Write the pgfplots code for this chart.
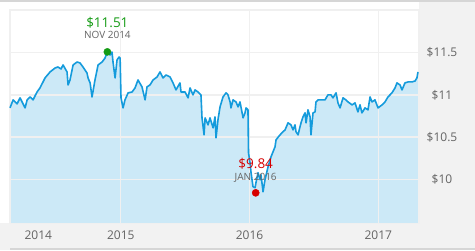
\documentclass[border=0pt]{standalone}
\usepackage{pgfplots}
\pgfplotsset{compat=1.18}
\usepackage{pgfplotstable}
\usepackage{fontspec}
\setmainfont{Open Sans}
\definecolor{lineblue}{RGB}{20,155,220}
\definecolor{fillblue}{RGB}{204,233,247}
\definecolor{gridgray}{RGB}{240,240,240}
\definecolor{panelgray}{RGB}{242,242,242}
\definecolor{bargray}{RGB}{214,214,214}
\definecolor{labelgray}{RGB}{100,100,100}
\definecolor{hiGreen}{RGB}{20,155,20}
\definecolor{loRed}{RGB}{215,0,0}

\pgfplotstableread{
x y
2014.140 10.846
2014.164 10.941
2014.195 10.894
2014.218 10.965
2014.257 10.846
2014.273 10.941
2014.296 10.976
2014.319 10.941
2014.350 11.035
2014.373 11.083
2014.412 11.201
2014.451 11.272
2014.490 11.319
2014.513 11.331
2014.536 11.307
2014.552 11.355
2014.583 11.272
2014.591 11.118
2014.606 11.177
2014.630 11.355
2014.661 11.390
2014.684 11.378
2014.707 11.331
2014.738 11.260
2014.746 11.201
2014.762 11.142
2014.777 10.976
2014.800 11.177
2014.824 11.355
2014.855 11.390
2014.878 11.437
2014.896 11.510
2014.917 11.473
2014.932 11.508
2014.940 11.390
2014.956 11.201
2014.971 11.414
2014.987 11.449
2014.995 11.437
2015.002 10.965
2015.018 10.846
2015.033 10.941
2015.057 11.024
2015.088 11.035
2015.111 11.083
2015.134 11.177
2015.165 11.095
2015.189 10.941
2015.204 11.095
2015.227 11.118
2015.251 11.177
2015.282 11.213
2015.305 11.272
2015.328 11.201
2015.352 11.236
2015.383 11.213
2015.406 11.142
2015.429 11.059
2015.460 11.142
2015.468 11.035
2015.499 11.035
2015.523 10.965
2015.538 11.083
2015.561 11.000
2015.577 11.059
2015.600 11.035
2015.623 11.000
2015.631 10.728
2015.647 10.527
2015.655 10.728
2015.678 10.645
2015.693 10.728
2015.717 10.610
2015.732 10.740
2015.740 10.492
2015.755 10.705
2015.771 10.858
2015.794 10.976
2015.818 11.024
2015.833 11.000
2015.849 10.917
2015.856 10.846
2015.872 10.941
2015.895 10.917
2015.911 10.858
2015.926 10.917
2015.950 10.728
2015.965 10.787
2015.973 10.846
2015.988 10.823
2015.992 10.314
2016.004 10.196
2016.012 10.078
2016.027 9.913
2016.043 9.901
2016.050 9.960
2016.066 10.078
2016.082 9.995
2016.089 10.054
2016.105 9.853
2016.120 9.995
2016.144 10.149
2016.167 10.267
2016.198 10.385
2016.206 10.468
2016.237 10.527
2016.260 10.563
2016.276 10.586
2016.299 10.669
2016.322 10.645
2016.338 10.586
2016.353 10.645
2016.361 10.563
2016.377 10.527
2016.392 10.622
2016.400 10.669
2016.415 10.740
2016.431 10.787
2016.439 10.669
2016.454 10.823
2016.470 10.740
2016.477 10.527
2016.493 10.787
2016.509 10.799
2016.516 10.917
2016.532 10.941
2016.555 10.941
2016.586 10.941
2016.609 11.000
2016.633 11.000
2016.648 10.965
2016.672 11.024
2016.687 10.905
2016.703 10.846
2016.726 10.965
2016.749 10.941
2016.765 10.917
2016.796 10.882
2016.819 10.905
2016.842 10.799
2016.858 10.882
2016.873 10.787
2016.897 10.846
2016.920 10.823
2016.936 10.976
2016.951 10.917
2016.974 10.941
2016.998 10.846
2017.029 10.882
2017.052 10.917
2017.075 10.976
2017.106 11.024
2017.130 11.083
2017.145 11.142
2017.169 11.118
2017.184 11.059
2017.207 11.142
2017.231 11.154
2017.262 11.154
2017.285 11.165
2017.300 11.201
2017.308 11.272
}\pricedata

\pgfplotsset{common/.style={
  at={(10pt,26.7pt)}, anchor=south west,
  scale only axis, width=409pt, height=213.3pt,
  xmin=2014.140, xmax=2017.316,
  ymin=9.479, ymax=12.006,
}}

\begin{document}
\begin{tikzpicture}[x=1pt,y=1pt]
% background panels
\fill[white] (0,0) rectangle (475,250);
\fill[panelgray] (0,0) rectangle (475,26.7);
\fill[panelgray] (419,0) rectangle (475,250);
\fill[bargray] (0,248) rectangle (475,250);
\fill[bargray] (10,0) rectangle (475,2.5);
% area fill underneath the grid
\begin{axis}[common, hide axis]
\addplot[fill=fillblue, draw=none] table {\pricedata} \closedcycle;
\end{axis}
% grid, line, marks, labels
\begin{axis}[
  common,
  axis line style={draw=gridgray, line width=1.5pt},
  major tick length=0pt,
  grid=major,
  major grid style={draw=gridgray, line width=1.5pt},
  xtick={2015,2016,2017},
  xticklabels={2015,2016,2017},
  extra x ticks={2014.36},
  extra x tick labels={2014},
  extra x tick style={grid=none},
  ytick={10,10.5,11,11.5},
  yticklabels={\$10,\$10.5,\$11,\$11.5},
  yticklabel pos=right,
  tick label style={font=\fontsize{12}{14}\selectfont, text=labelgray},
  yticklabel style={anchor=center, xshift=23pt},
  xticklabel style={anchor=center, yshift=-11.5pt},
  /pgf/number format/assume math mode=true,
  clip=false,
]
\addplot[lineblue, line width=1.6pt, line join=round] table {\pricedata};
\addplot[only marks, mark=*, mark size=3.6pt, color=hiGreen] coordinates {(2014.896,11.51)};
\addplot[only marks, mark=*, mark size=3.6pt, color=loRed] coordinates {(2016.048,9.84)};
\node[anchor=base, yshift=24pt, text=hiGreen, font=\fontsize{13.5}{15}\selectfont] at (axis cs:2014.896,11.51) {\$11.51};
\node[anchor=base, yshift=13pt, text=labelgray, font=\fontsize{10}{12}\selectfont] at (axis cs:2014.896,11.51) {NOV 2014};
\node[anchor=base, yshift=24pt, text=loRed, font=\fontsize{13.5}{15}\selectfont] at (axis cs:2016.048,9.84) {\$9.84};
\node[anchor=base, yshift=12pt, text=labelgray, font=\fontsize{10}{12}\selectfont] at (axis cs:2016.048,9.84) {JAN 2016};
\end{axis}
\end{tikzpicture}
\end{document}
